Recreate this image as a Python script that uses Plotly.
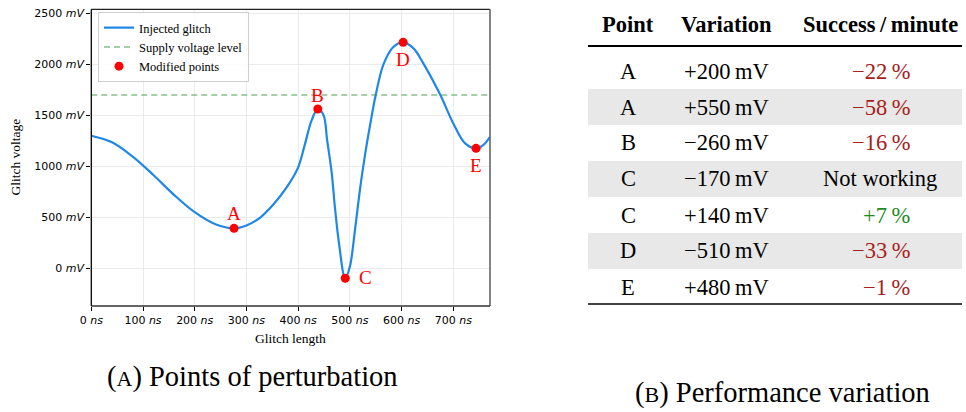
import plotly.graph_objects as go

# ---------------- data ----------------
glitch_ns = [0, 40, 80, 120, 160, 200, 240, 276, 300, 326, 352, 378, 400,
             413, 426, 438, 449, 456, 465, 471, 479, 491, 500, 510, 520, 530, 540, 550,
             565, 584, 603, 623, 642, 675, 700, 723, 744, 758, 771]
glitch_mv = [1300, 1235, 1095, 915, 720, 550, 432, 392, 420, 495, 625, 795, 990,
             1215, 1450, 1562, 1503, 1258, 931, 604, 245, -98, 16, 380, 790, 1135, 1430,
             1700, 2000, 2170, 2216, 2157, 2010, 1699, 1421, 1225, 1176, 1209, 1290]
supply_mv = 1700
point_names = ['A', 'B', 'C', 'D', 'E']
point_ns = [276, 438, 491, 603, 744]
point_mv = [392, 1562, -98, 2216, 1176]
x_ticks = [0, 100, 200, 300, 400, 500, 600, 700]
y_ticks = [0, 500, 1000, 1500, 2000, 2500]

tbl_header = ['Point', 'Variation', 'Success\u2009/\u2009minute']
tbl_point = ['A', 'A', 'B', 'C', 'C', 'D', 'E']
tbl_variation_mv = [200, 550, -260, -170, 140, -510, 480]
tbl_success_pct = [-22, -58, -16, None, 7, -33, -1]

caption_a = '(<span style="font-size:22px">A</span>) Points of perturbation'
caption_b = '(<span style="font-size:22px">B</span>) Performance variation'

# ---------------- layout helpers ----------------
W, H = 966, 412
def fx(p):
    return p / W
def fy(p):
    return 1 - p / H

SERIF = 'Liberation Serif, Times New Roman, serif'
SANS = 'DejaVu Sans, sans-serif'
RED = '#ff0000'

def note(x, y, text, size, color='black', xanchor='center', yanchor='middle', **kw):
    return dict(x=fx(x), y=fy(y), xref='paper', yref='paper', text=text, showarrow=False,
                xanchor=xanchor, yanchor=yanchor, font=dict(family=SERIF, size=size, color=color), **kw)

fig = go.Figure()
fig.add_trace(go.Scatter(x=glitch_ns, y=glitch_mv, mode='lines', name='Injected glitch',
                         line=dict(color='#1e88e8', width=2.2, shape='spline', smoothing=1.0)))
fig.add_trace(go.Scatter(x=[0, 771], y=[supply_mv, supply_mv], mode='lines', name='Supply voltage level',
                         line=dict(color='rgba(60,150,60,0.6)', width=1.5, dash='6px,4px')))
fig.add_trace(go.Scatter(x=point_ns, y=point_mv, mode='markers', name='Modified points',
                         marker=dict(color=RED, size=9)))

label_shift = {'A': (0, 15), 'B': (0, 14), 'C': (20, 1), 'D': (0, -17), 'E': (0, -17)}
annotations = []
for name, xv, yv in zip(point_names, point_ns, point_mv):
    dx, dy = label_shift[name]
    annotations.append(dict(x=xv, y=yv, xref='x', yref='y', text=name, showarrow=False,
                            xanchor='center', yanchor='middle',
                            xshift=dx, yshift=dy, font=dict(family=SERIF, size=19, color=RED)))

# axis titles
annotations.append(note(290.6, 338, 'Glitch length', 13.5))
annotations.append(note(15, 157.5, 'Glitch voltage', 13.5, textangle=-90))

# captions
annotations.append(note(252, 377, caption_a, 28.5))
annotations.append(note(782, 393, caption_b, 28.5))

# table
col_x = [628, 726.5, 880]
header_y = 25
row_y0, row_pitch = 71, 36
TFONT = 22.5
for cx, htxt in zip(col_x, tbl_header):
    annotations.append(note(cx, header_y, '<b>%s</b>' % htxt, TFONT))
shapes = []
for i, (pt, var, suc) in enumerate(zip(tbl_point, tbl_variation_mv, tbl_success_pct)):
    yc = row_y0 + row_pitch * i
    if i % 2 == 1:
        shapes.append(dict(type='rect', xref='paper', yref='paper', x0=fx(588), x1=fx(962),
                           y0=fy(yc - 18), y1=fy(yc + 18), fillcolor='#e8e8e8', line=dict(width=0),
                           layer='below'))
    annotations.append(note(col_x[0], yc, pt, TFONT))
    vtxt = ('+' if var > 0 else '\u2212') + '%d\u2009mV' % abs(var)
    annotations.append(note(col_x[1], yc, vtxt, TFONT))
    if suc is None:
        annotations.append(note(col_x[2], yc, 'Not working', TFONT))
    else:
        stxt = ('+' if suc > 0 else '\u2212') + '%d\u2009%%' % abs(suc)
        col = '#1e8a1e' if suc > 0 else '#a8201a'
        annotations.append(note(912, yc, stxt, TFONT, color=col, xanchor='right'))

shapes.append(dict(type='line', xref='paper', yref='paper', x0=fx(588), x1=fx(962), y0=fy(46), y1=fy(46),
                   line=dict(color='black', width=2.2)))
shapes.append(dict(type='line', xref='paper', yref='paper', x0=fx(588), x1=fx(962), y0=fy(304), y1=fy(304),
                   line=dict(color='black', width=1.4)))

# plot spines
PX0, PX1, PY0, PY1 = 91.3, 490, 9.3, 306
shapes.append(dict(type='line', xref='paper', yref='paper', x0=fx(PX0), x1=fx(PX1), y0=fy(PY0), y1=fy(PY0),
                   line=dict(color='#222', width=1.3), layer='above'))
shapes.append(dict(type='line', xref='paper', yref='paper', x0=fx(PX1), x1=fx(PX1), y0=fy(PY0), y1=fy(PY1),
                   line=dict(color='#666', width=1.6), layer='above'))
shapes.append(dict(type='line', xref='paper', yref='paper', x0=fx(PX0), x1=fx(PX1), y0=fy(PY1), y1=fy(PY1),
                   line=dict(color='#333', width=1.5), layer='above'))
shapes.append(dict(type='line', xref='paper', yref='paper', x0=fx(PX0), x1=fx(PX0), y0=fy(PY0), y1=fy(PY1),
                   line=dict(color='black', width=1.3), layer='above'))

fig.update_layout(
    width=W, height=H, margin=dict(l=0, r=0, t=0, b=0),
    paper_bgcolor='white', plot_bgcolor='white',
    showlegend=True,
    legend=dict(x=fx(98), y=fy(12), xanchor='left', yanchor='top', bgcolor='rgba(255,255,255,0.85)',
                bordercolor='#cfcfcf', borderwidth=1, font=dict(family=SERIF, size=12.5, color='black'),
                tracegroupgap=0, itemwidth=30),
    xaxis=dict(domain=[fx(PX0), fx(PX1)], range=[0, 771], tickvals=x_ticks,
               ticktext=['%d <i>ns</i>' % v for v in x_ticks], ticks='outside', ticklen=4, tickwidth=1,
               tickcolor='black', showgrid=True, gridcolor='#ebebeb', gridwidth=1, zeroline=False,
               showline=False, automargin=False, tickfont=dict(family=SANS, size=11, color='black')),
    yaxis=dict(domain=[fy(PY1), fy(PY0)], range=[-370, 2540], tickvals=y_ticks,
               ticktext=['%d <i>mV</i>' % v for v in y_ticks], ticks='outside', ticklen=4, tickwidth=1,
               tickcolor='black', showgrid=True, gridcolor='#ebebeb', gridwidth=1, zeroline=False,
               showline=False, automargin=False, tickfont=dict(family=SANS, size=11, color='black')),
    annotations=annotations, shapes=shapes,
)
fig.write_html('out.html')
